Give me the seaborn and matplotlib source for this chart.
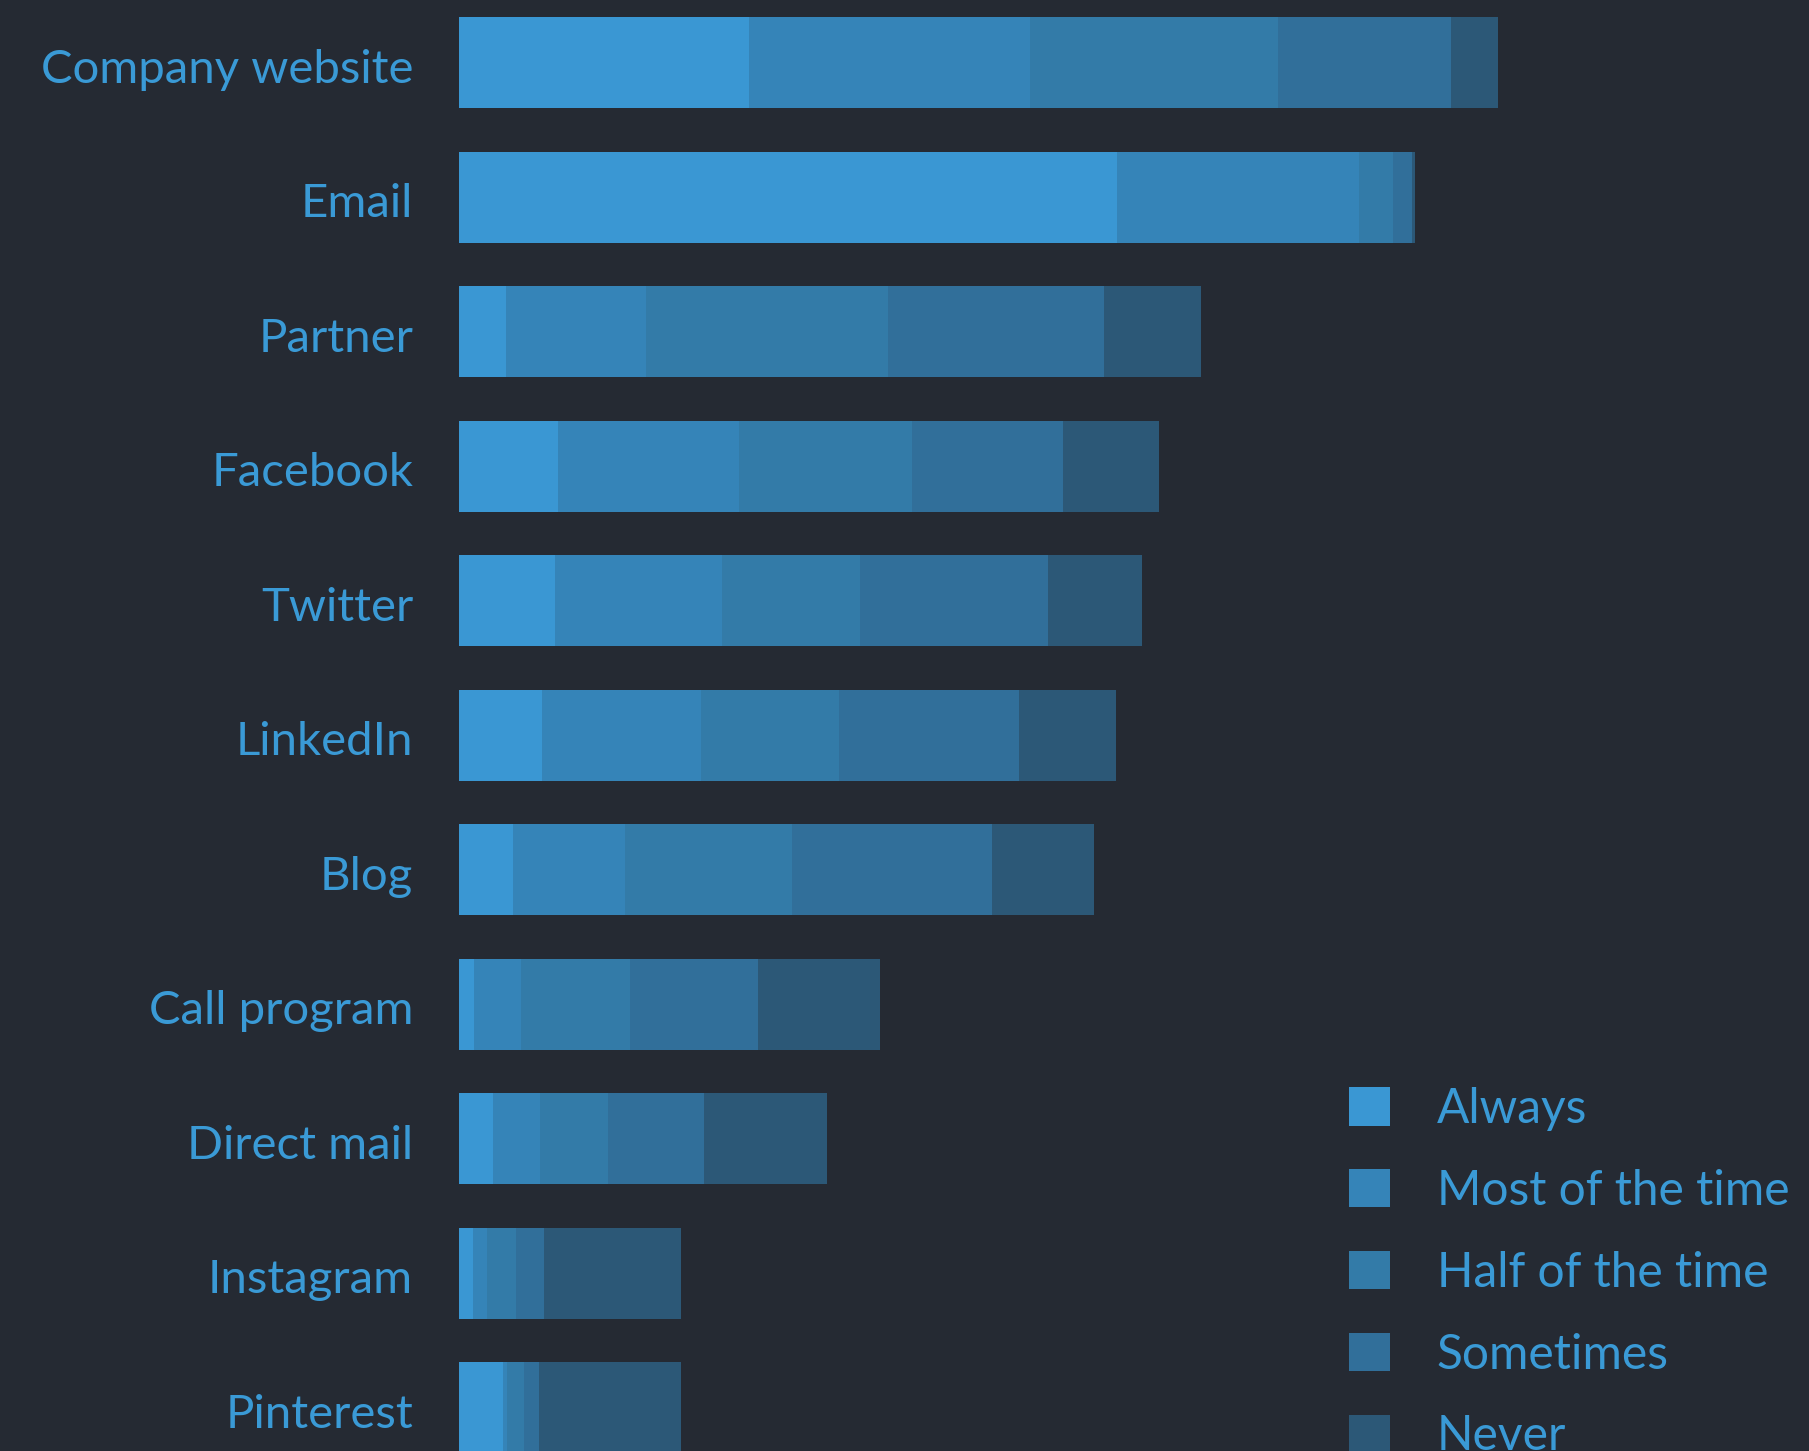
#!/usr/bin/env python3
# coding: utf-8

import pandas as pd
import seaborn as sns
import matplotlib.pyplot as plt
import matplotlib.transforms as mtransforms
from matplotlib.patches import Patch


# data (number of responses per channel)
channels = ['Company website', 'Email', 'Partner', 'Facebook', 'Twitter', 'LinkedIn',
            'Blog', 'Call program', 'Direct mail', 'Instagram', 'Pinterest']
always = [82.8, 188.0, 13.4, 28.3, 27.4, 23.7, 15.5, 4.3, 9.7, 4.0, 12.6]
most_of_the_time = [80.4, 69.1, 40.1, 51.6, 47.7, 45.5, 31.9, 13.3, 13.3, 4.0, 1.2]
half_of_the_time = [70.7, 9.7, 69.0, 49.5, 39.5, 39.5, 47.8, 31.2, 19.7, 8.3, 4.9]
sometimes = [49.5, 5.4, 61.8, 43.3, 53.8, 51.3, 57.0, 36.5, 27.2, 7.9, 4.2]
never = [13.4, 0.9, 27.8, 27.3, 26.8, 27.7, 29.3, 34.9, 35.1, 39.2, 40.6]

levels = ['Always', 'Most of the time', 'Half of the time', 'Sometimes', 'Never']
colors = ['#3a97d3', '#3584b8', '#337ba8', '#316f9a', '#2c5877']
bg = '#252a33'
text_color = '#3a9ad6'


df = pd.DataFrame({'channel': channels, 'Always': always, 'Most of the time': most_of_the_time,
                   'Half of the time': half_of_the_time, 'Sometimes': sometimes, 'Never': never})
cum = df[levels].cumsum(axis=1)
cum['channel'] = df['channel']


# plot
sns.set_theme(style='dark')
plt.rcParams['font.family'] = ['Lato', 'DejaVu Sans']

fig = plt.figure(figsize=(18.09, 14.51), dpi=100, facecolor=bg)
ax = fig.add_axes([459 / 1809, 0, 1 - 459 / 1809, 1])
ax.set_facecolor(bg)

# stacked bars: draw the running totals from the outermost level inwards
for level, color in reversed(list(zip(levels, colors))):
    sns.barplot(data=cum, x=level, y='channel', color=color, orient='h', width=0.677,
                saturation=1, linewidth=0, errorbar=None, ax=ax)

ax.set_xlim(0, (1809 - 459) / 3.5)
ax.set_ylim(10.32, -0.468)
ax.set(xlabel='', ylabel='', xticks=[])
ax.tick_params(axis='y', length=0, pad=33, labelsize=34, labelcolor=text_color)
shift = mtransforms.ScaledTranslation(0, -0.03, fig.dpi_scale_trans)
for label in ax.get_yticklabels():
    label.set_transform(label.get_transform() + shift)
for spine in ax.spines.values():
    spine.set_visible(False)

handles = [Patch(facecolor=c, edgecolor='none', label=l) for l, c in zip(levels, colors)]
ax.legend(handles=handles, loc='upper left', bbox_to_anchor=(1349 / 1809, 1 - 1087 / 1451),
          bbox_transform=fig.transFigure, frameon=False, fontsize=34.5, labelcolor=text_color,
          handlelength=0.856, handleheight=0.856, handletextpad=0.975, labelspacing=0.79,
          borderpad=0, borderaxespad=0)

plt.savefig('out.png', facecolor=bg)
